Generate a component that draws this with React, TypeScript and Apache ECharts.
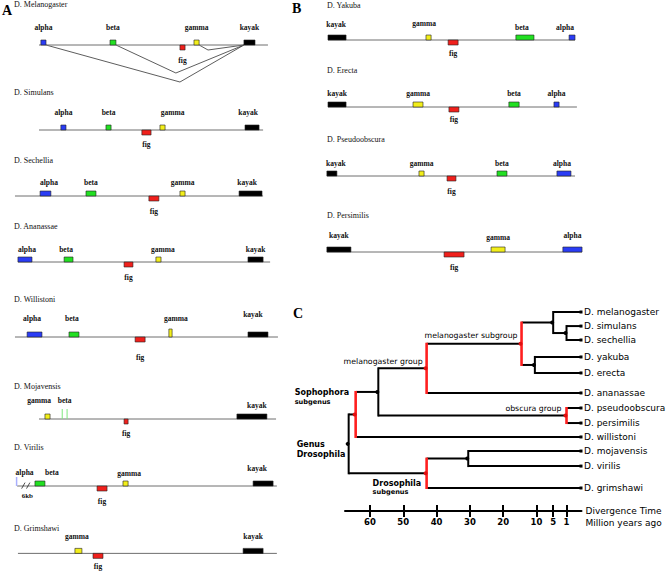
import { useEffect, useRef } from 'react';
import * as echarts from 'echarts';

// ======================= DATA =======================
// Gene-order panels: positions along each chromosome segment in relative units (0–100)
const geneNames = ['alpha', 'beta', 'gamma', 'fig', 'kayak'];

// Panel A
const melanogasterSpan = [10.0, 94.8];
const melanogasterGenes = [['alpha', 10.7, 12.6], ['beta', 36.3, 38.5], ['fig', 62.2, 64.1], ['gamma', 67.4, 69.3], ['kayak', 85.9, 90.0]];
const simulansSpan = [10.0, 93.0];
const simulansGenes = [['alpha', 18.1, 20.0], ['beta', 34.8, 36.7], ['fig', 48.1, 51.5], ['gamma', 54.8, 56.7], ['kayak', 86.3, 91.5]];
const sechelliaSpan = [1.1, 93.0];
const sechelliaGenes = [['alpha', 10.4, 14.4], ['beta', 27.4, 31.1], ['fig', 50.7, 54.4], ['gamma', 62.2, 64.1], ['kayak', 84.1, 92.6]];
const ananassaeSpan = [2.2, 95.6];
const ananassaeGenes = [['alpha', 2.2, 7.4], ['beta', 19.3, 22.6], ['fig', 41.5, 44.8], ['gamma', 53.3, 55.2], ['kayak', 87.4, 93.0]];
const willistoniSpan = [1.1, 98.5];
const willistoniGenes = [['alpha', 5.6, 11.1], ['beta', 21.1, 24.8], ['fig', 45.6, 49.3], ['gamma', 58.1, 59.3], ['kayak', 87.4, 94.8]];
const mojavensisSpan = [10.0, 97.8];
const mojavensisGenes = [['gamma', 12.2, 14.1], ['beta', 18.6, 20.4], ['fig', 41.5, 43.0], ['kayak', 83.3, 94.4]];
const virilisSpan = [1.9, 98.1];
const virilisGenes = [['alpha', 1.7, 1.7], ['beta', 8.5, 12.2], ['fig', 31.5, 35.2], ['gamma', 41.1, 43.0], ['kayak', 89.3, 96.7]];
const grimshawiSpan = [2.2, 98.1];
const grimshawiGenes = [['gamma', 23.3, 25.9], ['fig', 30.0, 33.7], ['kayak', 85.6, 93.0]];

// Panel B
const yakubaSpan = [1.1, 92.6];
const yakubaGenes = [['kayak', 1.1, 7.8], ['gamma', 37.4, 39.3], ['fig', 45.6, 49.3], ['beta', 70.7, 77.4], ['alpha', 90.4, 92.6]];
const erectaSpan = [1.1, 93.3];
const erectaGenes = [['kayak', 1.1, 7.8], ['gamma', 32.6, 36.3], ['fig', 45.9, 49.6], ['beta', 68.1, 71.9], ['alpha', 84.8, 86.7]];
const pseudoobscuraSpan = [0.7, 92.6];
const pseudoobscuraGenes = [['kayak', 0.7, 4.4], ['gamma', 34.8, 36.7], ['fig', 45.2, 48.5], ['beta', 63.7, 67.4], ['alpha', 85.9, 91.1]];
const persimilisSpan = [0.7, 95.2];
const persimilisGenes = [['kayak', 0.7, 9.6], ['fig', 44.1, 51.5], ['gamma', 61.5, 66.7], ['alpha', 88.1, 95.2]];

// D. melanogaster rearrangement links: [from gene, to gene, apex position, apex depth]
const melanogasterLinks = [['alpha', 'kayak', 62.2, 37], ['beta', 'kayak', 60.7, 28], ['gamma', 'kayak', 72.6, 5]];
// D. virilis: sequence-gap marks and gap size
const virilisBreaks = [4.2, 6.0];
const virilisBreakLabel = '6kb';

// Panel C: phylogeny
const leafNames = ['D. melanogaster', 'D. simulans', 'D. sechellia', 'D. yakuba', 'D. erecta', 'D. ananassae',
  'D. pseudoobscura', 'D. persimilis', 'D. willistoni', 'D. mojavensis', 'D. virilis', 'D. grimshawi'];
const leafRows = [0, 0.88, 1.75, 2.81, 3.81, 5.06, 6, 6.94, 7.81, 8.69, 9.63, 11];
const cladeIds = ['simSech', 'melSimSech', 'yakEre', 'melSubgroup', 'melGroup', 'obscura', 'sophophora',
  'sophSubgenus', 'mojVir', 'drosSubgenus', 'genus'];
const cladeAges = [1, 5, 10.5, 14.5, 43, 1, 57.5, 64.3, 30.5, 43, 66.4];
const cladeChildren = [
  ['D. simulans', 'D. sechellia'],
  ['D. melanogaster', 'simSech'],
  ['D. yakuba', 'D. erecta'],
  ['melSimSech', 'yakEre'],
  ['melSubgroup', 'D. ananassae'],
  ['D. pseudoobscura', 'D. persimilis'],
  ['melGroup', 'obscura'],
  ['sophophora', 'D. willistoni'],
  ['D. mojavensis', 'D. virilis'],
  ['mojVir', 'D. grimshawi'],
  ['sophSubgenus', 'drosSubgenus'],
];
const cladeLabels = ['', '', '', 'melanogaster subgroup', 'melanogaster group', 'obscura group', '',
  'Sophophora\nsubgenus', '', 'Drosophila\nsubgenus', 'Genus\nDrosophila'];
const timeTicks = [60, 50, 40, 30, 20, 10, 5, 1];
const timeAxisName = 'Divergence Time';
const timeAxisUnit = 'Million years ago';

// ======================= STYLE / LAYOUT =======================
const SERIF = '"Liberation Serif", "Times New Roman", serif';
const SANS = '"DejaVu Sans", Verdana, sans-serif';
const geneColor: Record<string, string> = { alpha: '#2a3cf5', beta: '#22e022', gamma: '#f2ee1a', fig: '#f0201c', kayak: '#000000' };
const redClades = ['melSubgroup', 'melGroup', 'obscura', 'sophSubgenus', 'drosSubgenus'];
const panelFrame: Record<string, any> = { A: { left: 12, width: 270, titleX: 14 }, B: { left: 325, width: 270, titleX: 327 } };
const specialShape: Record<string, string> = { 'D. Willistoni:gamma': 'tall', 'D. Mojavensis:beta': 'pair', 'D. Virilis:alpha': 'tick' };

const tracks: any[] = [
  { panel: 'A', title: 'D. Melanogaster', span: melanogasterSpan, genes: melanogasterGenes, lineY: 45, titleY: 4, labelDy: 18, figDy: 15, shift: {}, links: melanogasterLinks },
  { panel: 'A', title: 'D. Simulans', span: simulansSpan, genes: simulansGenes, lineY: 130, titleY: 92, labelDy: 18, figDy: 14, shift: { gamma: [10, 0], kayak: [-4, 0] } },
  { panel: 'A', title: 'D. Sechellia', span: sechelliaSpan, genes: sechelliaGenes, lineY: 196, titleY: 160, labelDy: 14, figDy: 15, shift: { alpha: [3.5, 0], kayak: [-3.5, 0] } },
  { panel: 'A', title: 'D. Ananassae', span: ananassaeSpan, genes: ananassaeGenes, lineY: 262, titleY: 226, labelDy: 13, figDy: 15, shift: { alpha: [2, 0], beta: [-2.5, 0], gamma: [4.5, 0] } },
  { panel: 'A', title: 'D. Willistoni', span: willistoniSpan, genes: willistoniGenes, lineY: 337, titleY: 299, labelDy: 19, figDy: 20, shift: { alpha: [-2.5, 0], beta: [-2, 0], gamma: [5.5, 0], kayak: [-5, -4] } },
  { panel: 'A', title: 'D. Mojavensis', span: mojavensisSpan, genes: mojavensisGenes, lineY: 419, titleY: 386, labelDy: 19, figDy: 14, shift: { gamma: [-8.5, 0], kayak: [5, 5] } },
  { panel: 'A', title: 'D. Virilis', span: virilisSpan, genes: virilisGenes, lineY: 486, titleY: 447, labelDy: 14, figDy: 15, shift: { alpha: [8, 0], beta: [12, 0], gamma: [3.5, 1], kayak: [-6, -4] }, breaks: virilisBreaks },
  { panel: 'A', title: 'D. Grimshawi', span: grimshawiSpan, genes: grimshawiGenes, lineY: 565, titleY: 528, labelDy: 17, figDy: 13, shift: { gamma: [-1.5, 0] } },
  { panel: 'B', title: 'D. Yakuba', span: yakubaSpan, genes: yakubaGenes, lineY: 40, titleY: 5, labelDy: 15, figDy: 13, shift: { kayak: [-1, -1], gamma: [-4.5, -2], beta: [-3, 2], alpha: [-7, 2] } },
  { panel: 'B', title: 'D. Erecta', span: erectaSpan, genes: erectaGenes, lineY: 107, titleY: 70, labelDy: 14, figDy: 12, shift: {} },
  { panel: 'B', title: 'D. Pseudoobscura', span: pseudoobscuraSpan, genes: pseudoobscuraGenes, lineY: 176, titleY: 139, labelDy: 13, figDy: 15, shift: { kayak: [4, 0], alpha: [-2, 0] } },
  { panel: 'B', title: 'D. Persimilis', span: persimilisSpan, genes: persimilisGenes, lineY: 252, titleY: 215, labelDy: 17, figDy: 15, shift: { gamma: [0, 2] } },
];

const cladeLabelLayout: Record<string, any> = {
  melSubgroup: { dx: -4, dy: [-8], size: [7.8], weight: 'normal', align: 'right' },
  melGroup: { dx: -4, dy: [-7], size: [7.8], weight: 'normal', align: 'right' },
  obscura: { dx: -5, dy: [-7.5], size: [7.8], weight: 'normal', align: 'right' },
  sophSubgenus: { dx: -61, dy: [-21.5, -12.5], size: [8, 6.6], weight: 'bold', align: 'left' },
  drosSubgenus: { dx: -54, dy: [10, 19], size: [8, 6.6], weight: 'bold', align: 'left' },
  genus: { dx: -52, dy: [1, 11], size: [8, 8], weight: 'bold', align: 'left' },
};

// ======================= OPTION =======================
function buildOption() {
  const grid: any[] = [];
  const xAxis: any[] = [];
  const yAxis: any[] = [];
  const series: any[] = [];
  const graphic: any[] = [];

  graphic.push({ type: 'text', x: 2, y: 10, style: { text: 'A', fontSize: 14, fontWeight: 'bold', fontFamily: SERIF, fill: '#000', verticalAlign: 'middle' } });
  graphic.push({ type: 'text', x: 292, y: 8, style: { text: 'B', fontSize: 14, fontWeight: 'bold', fontFamily: SERIF, fill: '#000', verticalAlign: 'middle' } });
  graphic.push({ type: 'text', x: 293, y: 313, style: { text: 'C', fontSize: 14, fontWeight: 'bold', fontFamily: SERIF, fill: '#000', verticalAlign: 'middle' } });

  tracks.forEach((t, i) => {
    const f = panelFrame[t.panel];
    grid.push({ left: f.left, width: f.width, top: t.lineY - 30, height: 80 });
    xAxis.push({ type: 'value', gridIndex: i, min: 0, max: 100, show: false });
    yAxis.push({ type: 'value', gridIndex: i, min: -30, max: 50, inverse: true, show: false });
    graphic.push({ type: 'text', x: f.titleX, y: t.titleY, style: { text: t.title, fontSize: 8, fontFamily: SERIF, fill: '#111', verticalAlign: 'middle' } });

    // backbone
    series.push({
      type: 'custom', xAxisIndex: i, yAxisIndex: i, silent: true, clip: false,
      data: [[t.span[0], t.span[1]]],
      renderItem: (_p: any, api: any) => {
        const a = api.coord([api.value(0), 0]);
        const b = api.coord([api.value(1), 0]);
        return { type: 'line', shape: { x1: a[0], y1: a[1], x2: b[0], y2: b[1] }, style: { stroke: '#6e6e6e', lineWidth: 1 } };
      },
    });

    // links (rearrangements)
    if (t.links) {
      const geneOf = (n: string) => t.genes.find((g: any) => g[0] === n);
      series.push({
        type: 'custom', xAxisIndex: i, yAxisIndex: i, silent: true, clip: false, z: 1,
        data: t.links.map((l: any) => [geneOf(l[0])[2], l[2], l[3], geneOf(l[1])[1]]),
        renderItem: (_p: any, api: any) => {
          const p1 = api.coord([api.value(0), 0]);
          const p2 = api.coord([api.value(1), api.value(2)]);
          const p3 = api.coord([api.value(3), 0]);
          return { type: 'polyline', shape: { points: [p1, p2, p3] }, style: { stroke: '#333', lineWidth: 0.8, fill: null } };
        },
      });
    }

    // break marks
    if (t.breaks) {
      series.push({
        type: 'custom', xAxisIndex: i, yAxisIndex: i, silent: true, clip: false,
        data: t.breaks.map((b: number, k: number) => [b, k]),
        renderItem: (_p: any, api: any) => {
          const p = api.coord([api.value(0), 0]);
          const children: any[] = [{ type: 'line', shape: { x1: p[0] - 1.7, y1: p[1] + 2.6, x2: p[0] + 1.7, y2: p[1] - 3.4 }, style: { stroke: '#222', lineWidth: 0.8 } }];
          if (api.value(1) === 1) {
            const q = api.coord([(t.breaks[0] + t.breaks[1]) / 2, 0]);
            children.push({ type: 'text', x: q[0] + 1.5, y: q[1] + 9.5, style: { text: virilisBreakLabel, fontSize: 7, fontWeight: 'bold', fontFamily: SERIF, fill: '#111', align: 'center', verticalAlign: 'middle' } });
          }
          return { type: 'group', children };
        },
      });
    }

    // genes
    series.push({
      type: 'custom', xAxisIndex: i, yAxisIndex: i, silent: true, clip: false, z: 3,
      data: t.genes.map((g: any) => [g[1], g[2], geneNames.indexOf(g[0])]),
      renderItem: (_p: any, api: any) => {
        const name = geneNames[api.value(2)];
        const a = api.coord([api.value(0), 0]);
        const b = api.coord([api.value(1), 0]);
        const shape = specialShape[t.title + ':' + name] || 'box';
        const below = name === 'fig';
        const children: any[] = [];
        const color = geneColor[name];
        if (shape === 'box' || shape === 'tall') {
          const h = shape === 'tall' ? 8 : 5;
          const w = Math.max(b[0] - a[0], 2.5);
          children.push({ type: 'rect', shape: { x: a[0], y: below ? a[1] : a[1] - h, width: w, height: h }, style: { fill: color, stroke: '#222', lineWidth: 0.6 } });
        } else if (shape === 'pair') {
          [a[0], b[0]].forEach((x) => children.push({ type: 'line', shape: { x1: x, y1: a[1], x2: x, y2: a[1] - 10 }, style: { stroke: '#7ee87e', lineWidth: 1 } }));
        } else if (shape === 'tick') {
          children.push({ type: 'line', shape: { x1: a[0], y1: a[1], x2: a[0], y2: a[1] - 9 }, style: { stroke: '#a9b0ff', lineWidth: 1.5 } });
        }
        const sh = t.shift[name] || [0, 0];
        const cx = (a[0] + b[0]) / 2 + sh[0];
        const cy = below ? a[1] + t.figDy + sh[1] : a[1] - t.labelDy + sh[1];
        children.push({ type: 'text', x: cx, y: cy, style: { text: name, fontSize: 7.5, fontWeight: 'bold', fontFamily: SERIF, fill: '#111', align: 'center', verticalAlign: 'middle' } });
        return { type: 'group', children };
      },
    });
  });

  // ---------- Panel C: tree ----------
  const T = tracks.length;
  const isLeaf = (id: string) => leafNames.indexOf(id) >= 0;
  const cladeRow: number[] = [];
  const leafParent: number[] = leafNames.map(() => -1);
  const rowOf = (id: string) => (isLeaf(id) ? leafRows[leafNames.indexOf(id)] : cladeRow[cladeIds.indexOf(id)]);
  cladeIds.forEach((_id, i) => {
    const rs = cladeChildren[i].map(rowOf);
    cladeRow[i] = (Math.min(...rs) + Math.max(...rs)) / 2;
    cladeChildren[i].forEach((c) => { if (isLeaf(c)) leafParent[leafNames.indexOf(c)] = i; });
  });

  const xMin = -3.5;
  const xMax = 67.5;
  grid.push({ left: 345, width: 236.5, top: 312, height: 199 });
  const axisBase = { type: 'value', gridIndex: T, inverse: true, min: xMin, max: xMax, position: 'bottom', splitLine: { show: false } };
  xAxis.push({
    ...axisBase,
    axisLine: { show: true, onZero: false, lineStyle: { color: '#000', width: 2 } },
    axisTick: { show: true, customValues: timeTicks, length: 6, lineStyle: { color: '#000', width: 2 } },
    axisLabel: { show: true, customValues: timeTicks, color: '#000', fontSize: 8.5, fontWeight: 'bold', fontFamily: SANS, margin: 6 },
    name: timeAxisName, nameLocation: 'start', nameGap: 4,
    nameTextStyle: { color: '#000', fontSize: 9, fontFamily: SANS, align: 'left', verticalAlign: 'middle' },
  });
  xAxis.push({
    ...axisBase,
    axisLine: { show: false, onZero: false },
    axisTick: { show: true, inside: true, customValues: timeTicks, length: 6, lineStyle: { color: '#000', width: 2 } },
    axisLabel: { show: false },
    name: '\n' + timeAxisUnit, nameLocation: 'start', nameGap: 4,
    nameTextStyle: { color: '#000', fontSize: 9, fontFamily: SANS, align: 'left', verticalAlign: 'middle', lineHeight: 24 },
  });
  yAxis.push({ type: 'value', gridIndex: T, inverse: true, min: 0, max: 199 / 16, show: false });

  // leaves
  series.push({
    type: 'custom', xAxisIndex: T, yAxisIndex: T, silent: true, clip: false,
    data: leafNames.map((_n, i) => [cladeAges[leafParent[i]], leafRows[i], i]),
    renderItem: (_p: any, api: any) => {
      const a = api.coord([api.value(0), api.value(1)]);
      const b = api.coord([xMin, api.value(1)]);
      return {
        type: 'group',
        children: [
          { type: 'line', shape: { x1: a[0], y1: a[1], x2: b[0], y2: b[1] }, style: { stroke: '#000', lineWidth: 2 } },
          { type: 'rect', shape: { x: b[0] - 2, y: b[1] - 1.5, width: 3, height: 3 }, style: { fill: '#000' } },
          { type: 'text', x: b[0] + 2.5, y: b[1], style: { text: leafNames[api.value(2)], fontSize: 9, fontFamily: SANS, fill: '#000', align: 'left', verticalAlign: 'middle' } },
        ],
      };
    },
  });

  // clades
  series.push({
    type: 'custom', xAxisIndex: T, yAxisIndex: T, silent: true, clip: false, z: 3,
    data: cladeIds.map((_id, i) => [cladeAges[i], cladeRow[i], i]),
    renderItem: (_p: any, api: any) => {
      const i = api.value(2);
      const id = cladeIds[i];
      const p = api.coord([api.value(0), api.value(1)]);
      const rows = cladeChildren[i].map(rowOf);
      const yTop = api.coord([api.value(0), Math.min(...rows)])[1];
      const yBot = api.coord([api.value(0), Math.max(...rows)])[1];
      const children: any[] = [];
      cladeChildren[i].forEach((c) => {
        if (!isLeaf(c)) {
          const ci = cladeIds.indexOf(c);
          const q = api.coord([cladeAges[ci], cladeRow[ci]]);
          children.push({ type: 'line', shape: { x1: p[0], y1: q[1], x2: q[0], y2: q[1] }, style: { stroke: '#000', lineWidth: 2 } });
        }
      });
      const red = redClades.indexOf(id) >= 0;
      children.push({ type: 'line', z2: 5, shape: { x1: p[0], y1: yTop - 1, x2: p[0], y2: yBot + 1 }, style: { stroke: red ? '#ff1f1f' : '#000', lineWidth: red ? 2.6 : 2 } });
      children.push({ type: 'circle', z2: 6, shape: { cx: p[0] - 1, cy: p[1], r: 2 }, style: { fill: red ? '#e01010' : '#000' } });
      const lbl = cladeLabels[i];
      const lay = cladeLabelLayout[id];
      if (lbl && lay) {
        lbl.split('\n').forEach((line: string, k: number) => {
          children.push({
            type: 'text', x: p[0] + lay.dx, y: p[1] + lay.dy[k],
            style: { text: line, fontSize: lay.size[k], fontWeight: lay.weight, fontFamily: SANS, fill: '#000', align: lay.align, verticalAlign: 'middle' },
          });
        });
      }
      return { type: 'group', children };
    },
  });

  return { animation: false, backgroundColor: '#fff', grid, xAxis, yAxis, series, graphic };
}

export default function App() {
  const ref = useRef<HTMLDivElement>(null);
  useEffect(() => {
    const chart = echarts.init(ref.current as HTMLDivElement, null, { renderer: 'svg' });
    chart.setOption(buildOption() as any);
    return () => chart.dispose();
  }, []);
  return <div ref={ref} style={{ position: 'absolute', left: 0, top: 0, width: 670, height: 584, background: '#fff' }} />;
}
